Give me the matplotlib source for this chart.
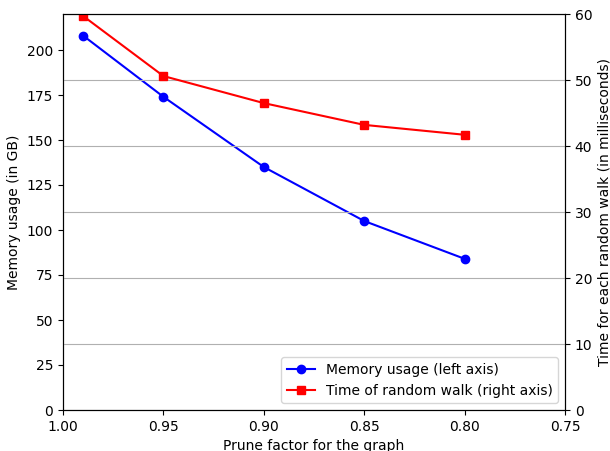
import matplotlib
matplotlib.use("Agg")
import matplotlib.pyplot as plt

prune = [0.99, 0.95, 0.90, 0.85, 0.80]
memory_gb = [208, 174, 135, 105, 84]
walk_ms = [59.7, 50.6, 46.5, 43.2, 41.7]

fig, ax1 = plt.subplots(figsize=(6.10, 4.51), dpi=100)
fig.subplots_adjust(left=63/610, right=565/610, top=1-14/451, bottom=1-410/451)

l1, = ax1.plot(prune, memory_gb, color='blue', marker='o', label='Memory usage (left axis)')
ax1.set_xlim(1.00, 0.75)
ax1.set_ylim(0, 220)
ax1.set_xticks([1.00, 0.95, 0.90, 0.85, 0.80, 0.75])
ax1.set_xlabel('Prune factor for the graph')
ax1.set_ylabel('Memory usage (in GB)')

ax2 = ax1.twinx()
l2, = ax2.plot(prune, walk_ms, color='red', marker='s', label='Time of random walk (right axis)')
ax2.set_ylim(0, 60)
ax2.set_ylabel('Time for each random walk (in milliseconds)')
ax2.grid(axis='y', color='#b0b0b0')

ax2.legend(handles=[l1, l2], loc='lower right')

fig.savefig('out.png', dpi=100)
